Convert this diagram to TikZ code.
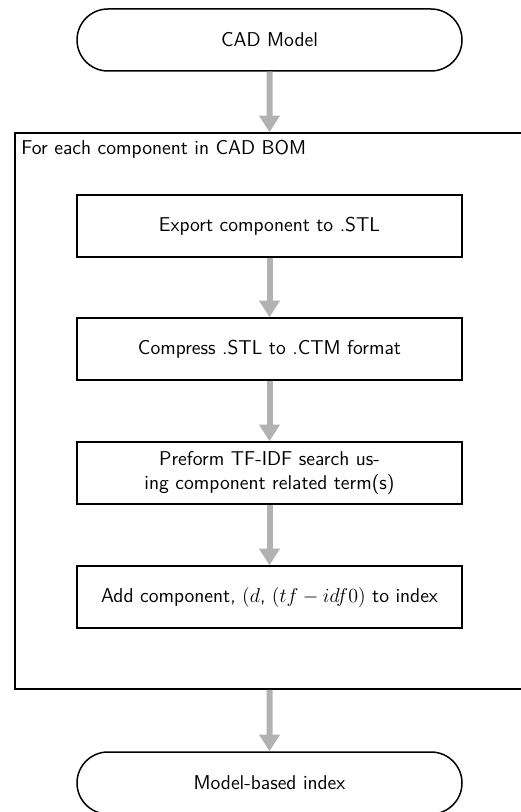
\documentclass[tikz,border=0pt]{standalone}
\usetikzlibrary{shapes.misc,arrows.meta}
\begin{document}
\begin{tikzpicture}[x=0.6pt,y=-0.6pt,
  every node/.style={font=\sffamily\fontsize{12}{14.6}\selectfont},
  term/.style={rounded rectangle, draw, line width=0.9pt, minimum width=231pt, minimum height=37.2pt, inner sep=0pt},
  stepbox/.style={rectangle, draw, line width=0.9pt, minimum width=231pt, minimum height=37.2pt, inner sep=0pt, align=center},
  loopbox/.style={rectangle, draw, line width=0.9pt, minimum width=309pt, minimum height=333.6pt, inner sep=0pt},
  flow/.style={draw=black!30, line width=3.6pt, -{Triangle[width=12pt,length=10pt]}}]
\useasboundingbox (0,0) rectangle (520,812);
\node[loopbox] (loop) at (272.5,411) {};
\node[anchor=base west, inner sep=0pt] (lbl) at (21,155) {For each component in CAD BOM};
\node[term] (cad) at (269.5,40) {CAD Model};
\node[stepbox] (s1) at (269.5,226) {Export component to .STL};
\node[stepbox] (s2) at (269.5,349) {Compress .STL to .CTM format};
\node[stepbox] (s3) at (269.5,473) {Preform TF-IDF search us-\\ing component related term(s)};
\node[stepbox] (s4) at (269.5,597) {Add component, $(d$, $(tf-idf0)$ to index};
\node[term] (idx) at (269.5,783) {Model-based index};
\draw[flow] (cad) -- (cad |- loop.north);
\draw[flow] (s1) -- (s2);
\draw[flow] (s2) -- (s3);
\draw[flow] (s3) -- (s4);
\draw[flow] (cad |- loop.south) -- (idx);
\end{tikzpicture}
\end{document}
